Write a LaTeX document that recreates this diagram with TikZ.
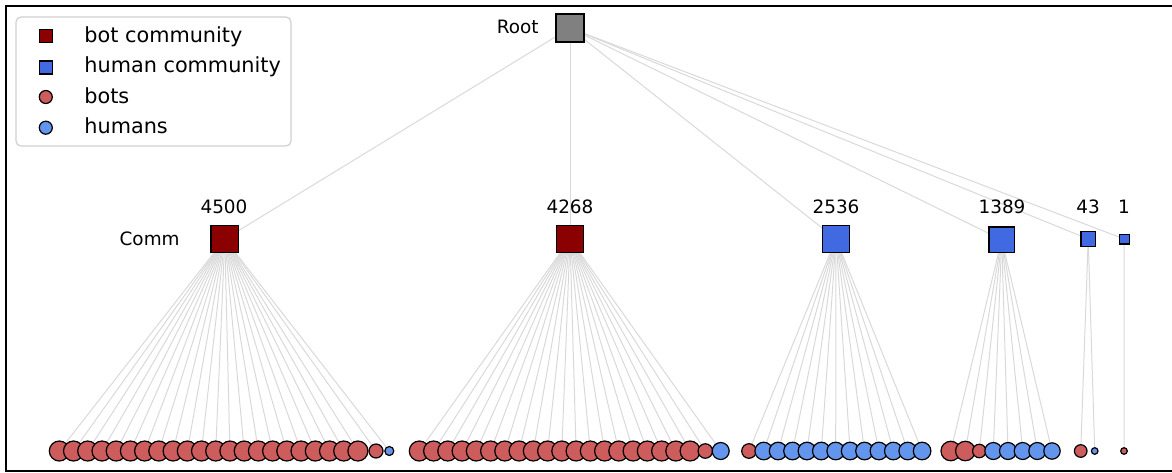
\documentclass[tikz,border=0pt]{standalone}
\usepackage{fontspec}
\setmainfont{DejaVu Sans}
\usetikzlibrary{backgrounds}
\definecolor{botcomm}{HTML}{8B0000}
\definecolor{humcomm}{HTML}{4169E1}
\definecolor{botleaf}{HTML}{CD5C5C}
\definecolor{humleaf}{HTML}{6495ED}
\definecolor{rootgray}{HTML}{808080}
\definecolor{edgegray}{HTML}{D9D9D9}
\definecolor{legendframe}{HTML}{D0D0D0}
\begin{document}
\begin{tikzpicture}[x=0.5pt,y=-0.5pt,
  every node/.style={font=\fontsize{10.4}{12.5}\selectfont},
  sq/.style={rectangle, draw=black, line width=0.6pt, inner sep=0pt, fill=#1},
  leaf/.style={circle, draw=black, line width=0.6pt, inner sep=0pt, fill=#1},
  edge/.style={draw=edgegray, line width=0.5pt},
  lbl/.style={inner sep=0pt, font=\fontsize{9.2}{11}\selectfont}]
\useasboundingbox (0,0) rectangle (1172,472);
% outer frame (open on the right)
\draw[line width=0.7pt] (1173,6) -- (6,6) -- (6,471) -- (1173,471);

% legend
\draw[legendframe, rounded corners=2.5pt, line width=0.6pt, fill=white] (16,17) rectangle (291,146);
\node[sq=botcomm, minimum size=6.5pt] (kbc) at (45.8,36) {};
\node[sq=humcomm, minimum size=6.5pt] (khc) at (45.8,67.5) {};
\node[leaf=botleaf, minimum size=6.5pt] (kb) at (45.8,97) {};
\node[leaf=humleaf, minimum size=6.5pt] (kh) at (45.8,127.7) {};
\node[inner sep=0pt, anchor=base west] (tbc) at (84,42) {bot community};
\node[inner sep=0pt, anchor=base west] (thc) at (84,72.7) {human community};
\node[inner sep=0pt, anchor=base west] (tb) at (84,103) {bots};
\node[inner sep=0pt, anchor=base west] (th) at (84,133.3) {humans};

% root
\node[sq=rootgray, minimum size=14pt] (root) at (570,28) {};
\node[lbl, anchor=east] (rootlbl) at (539,27) {Root};

% communities
\node[sq=botcomm, minimum size=13.85pt] (c1) at (224.8,239) {};
\node[sq=botcomm, minimum size=13.85pt] (c2) at (570,239) {};
\node[sq=humcomm, minimum size=13.7pt] (c3) at (836,239) {};
\node[sq=humcomm, minimum size=12.7pt] (c4) at (1001.7,239.7) {};
\node[sq=humcomm, minimum size=7.2pt] (c5) at (1088.2,239) {};
\node[sq=humcomm, minimum size=4.9pt] (c6) at (1124.2,239) {};
\node[lbl, anchor=east] (commlbl) at (180,239) {Comm};
\node[lbl] (n1) at (224,207) {4500};
\node[lbl] (n2) at (570,207) {4268};
\node[lbl] (n3) at (836,207) {2536};
\node[lbl] (n4) at (1002,207) {1389};
\node[lbl] (n5) at (1088,207) {43};
\node[lbl] (n6) at (1124,207) {1};

\begin{scope}[on background layer]
  \foreach \c in {c1,c2,c3,c4,c5,c6}
    \draw[edge] (root.center) -- (\c.center);
\end{scope}

% members of each community (x / diameter / colour)
\foreach \x/\d/\f [count=\i] in {
  59.3/20/botleaf, 73.5/20/botleaf, 87.7/20/botleaf, 102.0/20/botleaf,
  116.2/20/botleaf, 130.4/20/botleaf, 144.6/20/botleaf, 158.8/20/botleaf,
  173.1/20/botleaf, 187.3/20/botleaf, 201.5/20/botleaf, 215.7/20/botleaf,
  229.9/20/botleaf, 244.2/20/botleaf, 258.4/20/botleaf, 272.6/20/botleaf,
  286.8/20/botleaf, 301.0/20/botleaf, 315.3/20/botleaf, 329.5/20/botleaf,
  343.7/20/botleaf, 357.9/20/botleaf, 376/14/botleaf, 389.3/9/humleaf} {
  \node[leaf=\f, minimum size=0.5*\d pt] (ga\i) at (\x,451) {};
  \begin{scope}[on background layer]\draw[edge] (c1.center) -- (ga\i.center);\end{scope}
}
\foreach \x/\d/\f [count=\i] in {
  419.3/20/botleaf, 433.6/20/botleaf, 447.8/20/botleaf, 462.1/20/botleaf,
  476.3/20/botleaf, 490.6/20/botleaf, 504.8/20/botleaf, 519.1/20/botleaf,
  533.3/20/botleaf, 547.6/20/botleaf, 561.8/20/botleaf, 576.1/20/botleaf,
  590.3/20/botleaf, 604.6/20/botleaf, 618.8/20/botleaf, 633.1/20/botleaf,
  647.3/20/botleaf, 661.6/20/botleaf, 675.8/20/botleaf, 690.1/20/botleaf,
  705.3/14.5/botleaf, 720.7/17/humleaf} {
  \node[leaf=\f, minimum size=0.5*\d pt] (gb\i) at (\x,451) {};
  \begin{scope}[on background layer]\draw[edge] (c2.center) -- (gb\i.center);\end{scope}
}
\foreach \x/\d/\f [count=\i] in {
  749/14.6/botleaf, 763.7/17.6/humleaf, 778.1/17.6/humleaf, 792.5/17.6/humleaf,
  806.9/17.6/humleaf, 821.3/17.6/humleaf, 835.7/17.6/humleaf, 850.1/17.6/humleaf,
  864.5/17.6/humleaf, 878.9/17.6/humleaf, 893.3/17.6/humleaf, 907.7/17.6/humleaf,
  922.1/17.6/humleaf} {
  \node[leaf=\f, minimum size=0.5*\d pt] (gc\i) at (\x,451) {};
  \begin{scope}[on background layer]\draw[edge] (c3.center) -- (gc\i.center);\end{scope}
}
\foreach \x/\d/\f [count=\i] in {
  950.7/19.5/botleaf, 965.3/19.5/botleaf, 979.3/13.5/botleaf, 993.3/17/humleaf,
  1008/17/humleaf, 1022.7/17/humleaf, 1037.3/17/humleaf, 1052/16.4/humleaf} {
  \node[leaf=\f, minimum size=0.5*\d pt] (gd\i) at (\x,451) {};
  \begin{scope}[on background layer]\draw[edge] (c4.center) -- (gd\i.center);\end{scope}
}
\foreach \x/\d/\f [count=\i] in {1080.7/12.6/botleaf, 1094.7/6.6/humleaf} {
  \node[leaf=\f, minimum size=0.5*\d pt] (ge\i) at (\x,451) {};
  \begin{scope}[on background layer]\draw[edge] (c5.center) -- (ge\i.center);\end{scope}
}
\node[leaf=botleaf, minimum size=3.3pt] (gf1) at (1124,451) {};
\begin{scope}[on background layer]\draw[edge] (c6.center) -- (gf1.center);\end{scope}
\end{tikzpicture}
\end{document}
